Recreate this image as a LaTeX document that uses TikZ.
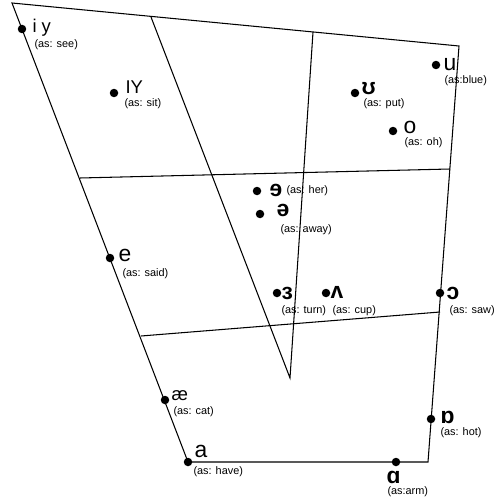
\documentclass[tikz,border=0pt]{standalone}
\usepackage{fontspec}
\setmainfont{Liberation Sans}
\usetikzlibrary{calc}
\tikzset{
  dot/.style={circle, fill=black, inner sep=0pt, minimum size=0.17cm},
  sym/.style={anchor=west, inner sep=0pt, font=\fontsize{10.5}{11}\selectfont},
  bigsym/.style={sym, font=\fontsize{13}{14}\selectfont},
  ex/.style={anchor=west, inner sep=0pt, font=\fontsize{6.2}{7}\selectfont},
}
\begin{document}
\begin{tikzpicture}[x=0.02cm, y=-0.02cm, line width=0.6pt]
            \useasboundingbox (0,0) rectangle (500,500);
            % Corners of the vowel chart
            \coordinate (tl) at (12,3);
            \coordinate (tr) at (459,46);
            \coordinate (br) at (428,462);
            \coordinate (bl) at (188,462);
            \draw (tl) -- (tr) -- (br) -- (bl) -- cycle;
            % Inner lines
            \coordinate (vtop) at (151,17);
            \coordinate (vtip) at (290,378);
            \coordinate (vend) at (313,32);
            \draw (vtop) -- (vtip) -- (vend);
            \coordinate (h1l) at (80,178);
            \coordinate (h1r) at (450,169);
            \draw (h1l) -- (h1r);
            \coordinate (h2l) at (141,336);
            \coordinate (h2r) at (440,312);
            \draw (h2l) -- (h2r);
            % Front vowels
            \node[dot] (iy) at (22,29) {};
            \node[sym] (iy-s) at (32,28) {i y};
            \node[ex] (iy-e) at (34,45) {(as: see)};
            \node[dot] (IY) at (114,93) {};
            \node[sym] (IY-s) at (125,87) {IY};
            \node[ex] (IY-e) at (124,104) {(as: sit)};
            \node[dot] (e) at (110,258) {};
            \node[bigsym] (e-s) at (118,255) {e};
            \node[ex] (e-e) at (122,274) {(as: said)};
            \node[dot] (ae) at (165,400) {};
            \node[sym] (ae-s) at (171,396) {æ};
            \node[ex] (ae-e) at (173,412) {(as: cat)};
            \node[dot] (a) at (188,462) {};
            \node[bigsym] (a-s) at (194,451) {a};
            \node[ex] (a-e) at (193,472) {(as: have)};
            % Central vowels
            \node[dot] (er) at (257,191) {};
            \node[bigsym] (er-s) at (269,190) {\textbf{ɘ}};
            \node[ex] (er-e) at (286,191) {(as: her)};
            \node[dot] (schwa) at (260,214) {};
            \node[bigsym] (schwa-s) at (276,210) {\textbf{ə}};
            \node[ex] (schwa-e) at (280,230) {(as: away)};
            \node[dot] (ur) at (277,293) {};
            \node[bigsym] (ur-s) at (281,293) {\textbf{ɜ}};
            \node[ex] (ur-e) at (281,311) {(as: turn)};
            \node[dot] (uh) at (326,293) {};
            \node[bigsym] (uh-s) at (330,292) {\textbf{ʌ}};
            \node[ex] (uh-e) at (332,311) {(as: cup)};
            % Back vowels
            \node[dot] (u) at (436,65) {};
            \node[bigsym] (u-s) at (443,65) {u};
            \node[ex] (u-e) at (444,81) {(as:blue)};
            \node[dot] (oo) at (355,93) {};
            \node[bigsym] (oo-s) at (361,89) {\textbf{ʊ}};
            \node[ex] (oo-e) at (363,104) {(as: put)};
            \node[dot] (o) at (393,131) {};
            \node[bigsym] (o-s) at (403,127) {o};
            \node[ex] (o-e) at (404,143) {(as: oh)};
            \node[dot] (aw) at (440,293) {};
            \node[bigsym] (aw-s) at (446,293) {\textbf{ɔ}};
            \node[ex] (aw-e) at (449,311) {(as: saw)};
            \node[dot] (ot) at (431,419) {};
            \node[bigsym] (ot-s) at (440,417) {\textbf{ɒ}};
            \node[ex] (ot-e) at (440,433) {(as: hot)};
            \node[dot] (ar) at (396,462) {};
            \node[bigsym] (ar-s) at (386,477) {\textbf{ɑ}};
            \node[ex] (ar-e) at (387,492) {(as:arm)};
\end{tikzpicture}
\end{document}
